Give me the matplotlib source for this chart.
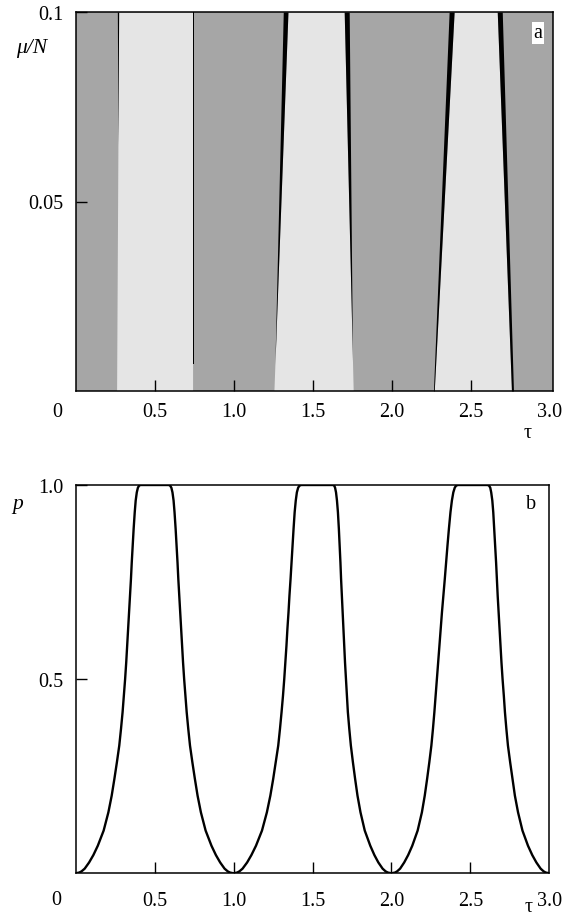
import numpy as np
import matplotlib.pyplot as plt

plt.rcParams['font.family'] = ['Liberation Serif', 'DejaVu Serif']

# panel a: edges of the light bands, read at mu/N = 0 and mu/N = 0.1
mu_edge = [0.0, 0.1]
band_left_bottom = [0.257, 1.253, 2.268]
band_left_top = [0.270, 1.342, 2.394]
band_right_bottom = [0.738, 1.755, 2.757]
band_right_top = [0.738, 1.698, 2.667]

# black rims along the band edges (pixel widths at top / bottom, lowest mu reached)
left_rim_top = [1.3, 4.7, 5.0]
left_rim_bottom = [0.0, 0.0, 0.8]
left_rim_end = [0.065, 0.007, 0.0]
right_rim_top = [1.0, 5.0, 5.0]
right_rim_bottom = [1.0, 0.0, 2.0]
right_rim_end = [0.007, 0.008, 0.0]

# panel b: p(tau), one rising and one falling branch per peak (read at these p levels)
p_levels = [0.0, 0.002, 0.005, 0.012, 0.028, 0.047, 0.071, 0.110, 0.157, 0.200,
            0.243, 0.286, 0.329, 0.372, 0.415, 0.457, 0.500, 0.543, 0.586, 0.629,
            0.672, 0.715, 0.758, 0.800, 0.844, 0.887, 0.930, 0.960, 0.981, 0.993,
            0.998, 1.0]
rise_1 = [0.000, 0.023, 0.037, 0.057, 0.085, 0.112, 0.140, 0.177, 0.207, 0.228,
          0.245, 0.261, 0.276, 0.287, 0.297, 0.305, 0.313, 0.320, 0.326, 0.332,
          0.338, 0.344, 0.350, 0.355, 0.361, 0.367, 0.374, 0.380, 0.387, 0.394,
          0.401, 0.410]
fall_1 = [1.000, 0.977, 0.963, 0.943, 0.915, 0.888, 0.860, 0.823, 0.793, 0.772,
          0.755, 0.739, 0.724, 0.713, 0.703, 0.695, 0.687, 0.680, 0.674, 0.668,
          0.662, 0.656, 0.650, 0.645, 0.639, 0.633, 0.626, 0.620, 0.613, 0.606,
          0.599, 0.590]
rise_2 = [1.000, 1.023, 1.037, 1.057, 1.086, 1.113, 1.142, 1.180, 1.211, 1.233,
          1.251, 1.267, 1.283, 1.294, 1.304, 1.313, 1.321, 1.328, 1.335, 1.341,
          1.348, 1.354, 1.361, 1.367, 1.373, 1.380, 1.387, 1.394, 1.401, 1.409,
          1.417, 1.428]
fall_2 = [2.000, 1.977, 1.963, 1.944, 1.917, 1.892, 1.866, 1.831, 1.804, 1.785,
          1.770, 1.756, 1.743, 1.733, 1.724, 1.718, 1.712, 1.706, 1.701, 1.696,
          1.691, 1.686, 1.681, 1.677, 1.672, 1.667, 1.661, 1.655, 1.649, 1.643,
          1.638, 1.632]
rise_3 = [2.000, 2.023, 2.036, 2.055, 2.081, 2.106, 2.132, 2.166, 2.193, 2.211,
          2.226, 2.240, 2.253, 2.263, 2.272, 2.280, 2.288, 2.296, 2.304, 2.312,
          2.320, 2.329, 2.338, 2.346, 2.355, 2.364, 2.374, 2.383, 2.392, 2.401,
          2.409, 2.420]
fall_3 = [3.000, 2.977, 2.964, 2.945, 2.918, 2.892, 2.865, 2.830, 2.802, 2.782,
          2.767, 2.752, 2.738, 2.728, 2.719, 2.712, 2.704, 2.697, 2.691, 2.685,
          2.679, 2.673, 2.668, 2.663, 2.657, 2.651, 2.645, 2.639, 2.632, 2.626,
          2.619, 2.610]

x_ticks = [0.5, 1.0, 1.5, 2.0, 2.5, 3.0]
x_labels = ['0.5', '1.0', '1.5', '2.0', '2.5', '3.0']

dark = '#a6a6a6'
light = '#e5e5e5'
fs = 14.5

fig = plt.figure(figsize=(5.75, 9.2), dpi=100)
ax_a = fig.add_axes([76 / 575, 1 - 392 / 920, 477 / 575, 379 / 920])
ax_b = fig.add_axes([75.7 / 575, 1 - 874.3 / 920, 473.6 / 575, 388.3 / 920])

# ---- panel a
ax_a.set_xlim(0, 3.02)
ax_a.set_ylim(0, 0.1)
ax_a.set_facecolor(dark)
px = 3.02 / 477  # tau per pixel

mu = np.linspace(0, 0.1, 50)
for i in range(3):
    xl = np.interp(mu, mu_edge, [band_left_bottom[i], band_left_top[i]])
    xr = np.interp(mu, mu_edge, [band_right_bottom[i], band_right_top[i]])
    ax_a.fill_betweenx(mu, xl, xr, color=light, lw=0)

    m = np.linspace(left_rim_end[i], 0.1, 40)
    edge = np.interp(m, mu_edge, [band_left_bottom[i], band_left_top[i]])
    w = np.interp(m, [left_rim_end[i], 0.1], [left_rim_bottom[i], left_rim_top[i]]) * px
    ax_a.fill_betweenx(m, edge - w, edge, color='black', lw=0)

    m = np.linspace(right_rim_end[i], 0.1, 40)
    edge = np.interp(m, mu_edge, [band_right_bottom[i], band_right_top[i]])
    w = np.interp(m, [right_rim_end[i], 0.1], [right_rim_bottom[i], right_rim_top[i]]) * px
    ax_a.fill_betweenx(m, edge, edge + w, color='black', lw=0)

ax_a.set_yticks([0.05, 0.1])
ax_a.set_yticklabels(['0.05', '0.1'])
ax_a.set_xticks(x_ticks)
ax_a.set_xticklabels(x_labels)
ax_a.xaxis.get_major_ticks()[-1].tick1line.set_visible(False)
ax_a.tick_params(axis='x', pad=8)
ax_a.text((538 - 76) / 477, (392 - 34) / 379, 'a', transform=ax_a.transAxes,
          fontsize=fs, ha='center', va='center',
          bbox=dict(facecolor='white', edgecolor='none', pad=1.0))
ax_a.text(-44 / 477, (392 - 48) / 379, 'μ/N', transform=ax_a.transAxes,
          fontsize=15.5, style='italic', ha='center', va='center')
ax_a.text(452 / 477, -42 / 379, 'τ', transform=ax_a.transAxes,
          fontsize=fs, ha='center', va='center')
ax_a.text(-19 / 477, -21 / 379, '0', transform=ax_a.transAxes,
          fontsize=fs, ha='center', va='center')

# ---- panel b
tau_b = np.concatenate([rise_1, fall_1[::-1], rise_2, fall_2[::-1], rise_3, fall_3[::-1]])
p_b = np.concatenate([p_levels, p_levels[::-1]] * 3)
ax_b.plot(tau_b, p_b, color='black', lw=1.7, solid_joinstyle='round')
ax_b.set_xlim(0, 3.0)
ax_b.set_ylim(0, 1.0)
ax_b.set_yticks([0.5, 1.0])
ax_b.set_yticklabels(['0.5', '1.0'])
ax_b.set_xticks(x_ticks)
ax_b.set_xticklabels(x_labels)
ax_b.xaxis.get_major_ticks()[-1].tick1line.set_visible(False)
ax_b.tick_params(axis='x', pad=13)
ax_b.text((531 - 75.7) / 473.6, (874.3 - 505) / 388.3, 'b', transform=ax_b.transAxes,
          fontsize=fs, ha='center', va='center')
ax_b.text(-58 / 473.6, (874.3 - 505) / 388.3, 'p', transform=ax_b.transAxes,
          fontsize=15.5, style='italic', ha='center', va='center')
ax_b.text(453 / 473.6, -33 / 388.3, 'τ', transform=ax_b.transAxes,
          fontsize=fs, ha='center', va='center')
ax_b.text(-19 / 473.6, -26 / 388.3, '0', transform=ax_b.transAxes,
          fontsize=fs, ha='center', va='center')

for ax in (ax_a, ax_b):
    for s in ax.spines.values():
        s.set_linewidth(1.1)
    ax.tick_params(direction='in', length=8, width=1, labelsize=fs,
                   top=False, right=False)
    ax.tick_params(axis='y', pad=9)

fig.savefig('out.png', dpi=100)
